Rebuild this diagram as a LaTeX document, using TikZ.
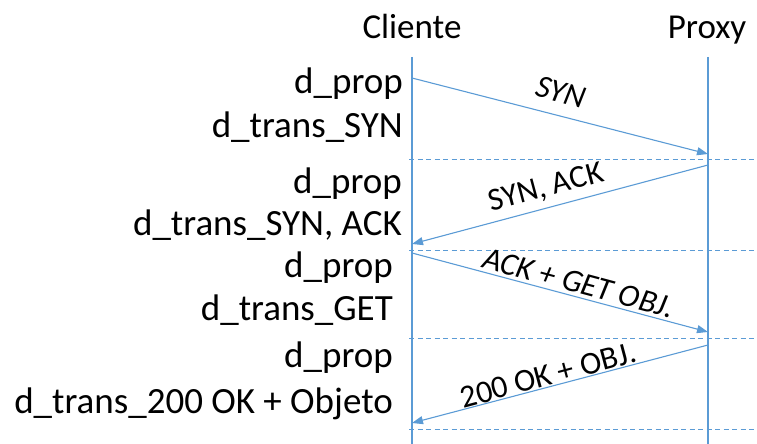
\documentclass[tikz,border=0pt]{standalone}
\usepackage{fontspec}
\setmainfont{Carlito}
\usetikzlibrary{arrows.meta}
\definecolor{seqblue}{HTML}{5B9BD5}
\begin{document}
\begin{tikzpicture}[x=1pt,y=-1pt,
  lifeline/.style={draw=seqblue,line width=1.3pt},
  msg/.style={draw=seqblue,line width=1.1pt,-{Triangle[length=11pt,width=8pt]}},
  slot/.style={draw=seqblue,line width=0.9pt,dash pattern=on 5pt off 3.5pt},
  head/.style={font=\fontsize{35}{40}\selectfont,anchor=base,inner sep=0pt},
  delay/.style={font=\fontsize{37}{44}\selectfont,anchor=base east,inner sep=0pt},
  msglabel/.style={font=\fontsize{32}{36}\selectfont,inner sep=0pt}]
\useasboundingbox (0,0) rectangle (757,444);

% participants
\node[head] (cli) at (412,39) {Cliente};
\node[head] (prx) at (707,39) {Proxy};

% lifelines
\coordinate (cliT) at (412,57);
\coordinate (cliB) at (412,444);
\coordinate (prxT) at (708,57);
\coordinate (prxB) at (708,444);
\draw[lifeline] (cliT) -- (cliB);
\draw[lifeline] (prxT) -- (prxB);

% time slot separators
\foreach \y/\n in {159/a,250/b,338/c,429/d}{
  \coordinate (s\n L) at (409,\y);
  \coordinate (s\n R) at (757,\y);
  \draw[slot] (s\n L) -- (s\n R);
}

% message end points
\coordinate (m1s) at (412,78);  \coordinate (m1e) at (708,154);
\coordinate (m2s) at (708,165); \coordinate (m2e) at (412,244);
\coordinate (m3s) at (412,253); \coordinate (m3e) at (708,332);
\coordinate (m4s) at (708,345); \coordinate (m4e) at (412,423);

\draw[msg] (m1s) -- (m1e);
\draw[msg] (m2s) -- (m2e);
\draw[msg] (m3s) -- (m3e);
\draw[msg] (m4s) -- (m4e);

% message labels
\node[msglabel,rotate=-14.4] (l1) at (561,92) {\itshape SYN};
\node[msglabel,rotate=15] (l2) at (546,188) {SYN, ACK};
\node[msglabel,rotate=-15] (l3) at (579,283) {\itshape ACK + GET OBJ.};
\node[msglabel,rotate=15] (l4) at (548,375) {200 OK + OBJ.};

% delays on the client side
\node[delay] (d1) at (403,93)  {d\_prop};
\node[delay] (d2) at (403,137) {d\_trans\_SYN};
\node[delay] (d3) at (402,193) {d\_prop};
\node[delay] (d4) at (402,235) {d\_trans\_SYN, ACK};
\node[delay] (d5) at (393,277) {d\_prop};
\node[delay] (d6) at (393,320) {d\_trans\_GET};
\node[delay] (d7) at (393,367) {d\_prop};
\node[delay] (d8) at (393,413) {d\_trans\_200 OK + Objeto};
\end{tikzpicture}
\end{document}
